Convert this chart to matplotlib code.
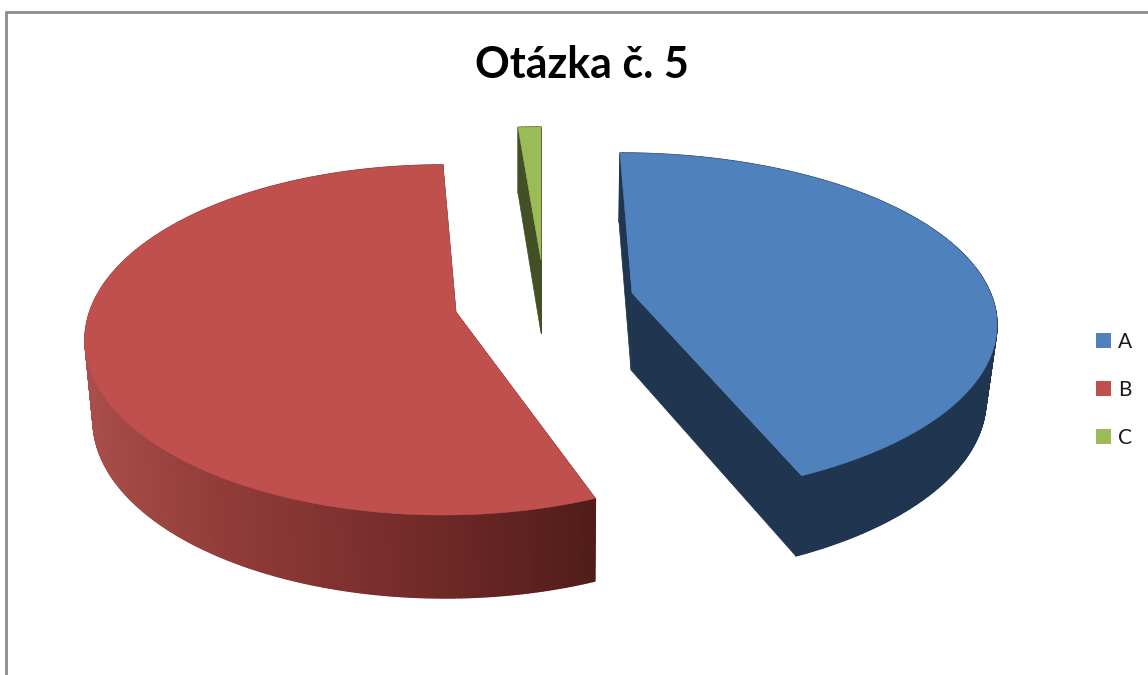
import numpy as np
import matplotlib
matplotlib.use("Agg")
import matplotlib.pyplot as plt
from matplotlib.collections import PolyCollection
from matplotlib.patches import Patch, Polygon
from matplotlib.colors import to_rgb

# --- data ---
title = "Otázka č. 5"
categories = ["A", "B", "C"]
values = [42.0, 57.0, 1.0]

# --- style ---
top_colors = ["#4f81bd", "#c0504d", "#9bbb59"]
side_colors = ["#1f3550", None, "#434f24"]
red_side_stops_x = [85, 200, 360, 595]
red_side_stops_c = ["#a94e4a", "#953e3b", "#7c302e", "#511c19"]

# per-slice projected geometry in pixels (exploded 3D pie with perspective)
geom = [
    dict(top=(620, 325, 377, 172), bot=(619, 400, 367, 178), apex=(632, 293), apex_bot=(631, 370), rot=0.0),
    dict(top=(443, 340, 358, 175), bot=(445, 420, 352, 178), apex=(456, 312), apex_bot=(456, 385), rot=3.6),
    dict(top=(541, 299, 365, 172), bot=(541, 365, 365, 172), apex=(541, 260), apex_bot=(541, 333), rot=0.0),
]

plt.rcParams["font.family"] = ["Lato", "DejaVu Sans"]
fig = plt.figure(figsize=(11.48, 6.75), dpi=100)
ax = fig.add_axes([0, 0, 1, 1])
ax.set_xlim(0, 1148)
ax.set_ylim(675, 0)
ax.axis("off")

# chart frame
ax.plot([5.5, 5.5, 1148], [675, 11.5, 11.5], color="#8c8c8c", lw=2.0, solid_joinstyle="miter")


def ell(e, deg):
    d = np.radians(deg)
    cx, cy, rx, ry = e
    return np.column_stack([cx + rx * np.sin(d), cy - ry * np.cos(d)])


def red_shade(x):
    rgb = np.array([to_rgb(c) for c in red_side_stops_c])
    return tuple(np.interp(x, red_side_stops_x, rgb[:, i]) for i in range(3))


edges = np.concatenate([[0], np.cumsum(values)]) / np.sum(values) * 360
for i, g in enumerate(geom):
    a0, a1 = edges[i] + g["rot"], edges[i + 1] + g["rot"]
    n = max(4, int(a1 - a0) * 2)
    th = np.linspace(a0, a1, n + 1)
    top = ell(g["top"], th)
    bot = ell(g["bot"], th)
    quads, cols = [], []
    for k in range(n):
        quads.append([top[k], top[k + 1], bot[k + 1], bot[k]])
        xm = (top[k, 0] + top[k + 1, 0]) / 2
        cols.append(red_shade(xm) if side_colors[i] is None else to_rgb(side_colors[i]))
    base = side_colors[i] if side_colors[i] else red_side_stops_c[-1]
    ap, ab = g["apex"], g["apex_bot"]
    faces = [[top[0], ap, ab, bot[0]], [top[-1], ap, ab, bot[-1]]]
    ax.add_collection(PolyCollection(faces, facecolors=base, edgecolors=base, linewidths=0.5, zorder=2))
    ax.add_collection(PolyCollection(quads, facecolors=cols, edgecolors=cols, linewidths=1.0, zorder=3))
    ax.add_patch(Polygon(np.vstack([[ap], top]), closed=True, facecolor=top_colors[i],
                         edgecolor=top_colors[i], linewidth=0.4, zorder=4))

ax.text(582, 65, title, ha="center", va="center", fontsize=31, fontweight="bold", color="black")

handles = [Patch(facecolor=c, edgecolor="none") for c in top_colors]
ax.legend(handles, categories, loc="center left", bbox_to_anchor=(1077.5, 390), bbox_transform=ax.transData,
          frameon=False, fontsize=15, handlelength=0.72, handleheight=0.72, handletextpad=0.32,
          labelspacing=1.35, labelcolor="#1a1a1a")

fig.savefig("out.png", dpi=100, facecolor="white")
